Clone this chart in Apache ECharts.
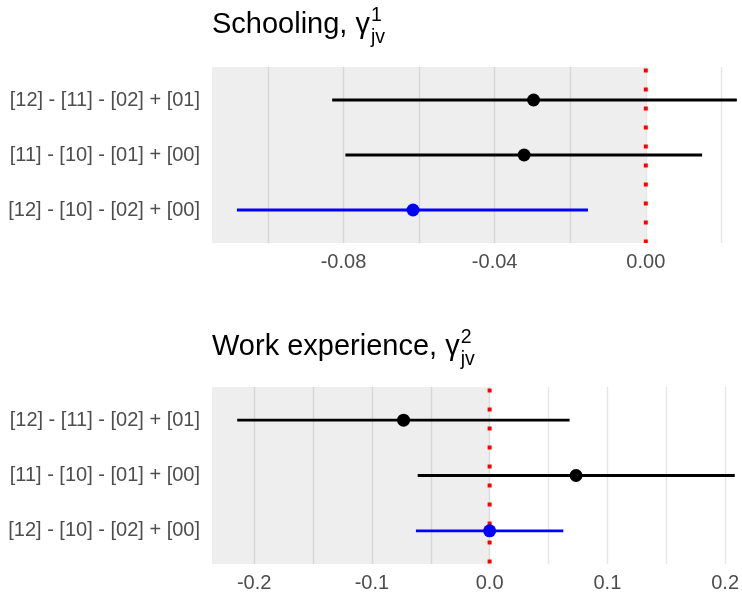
<!DOCTYPE html>
<html>
<head>
<meta charset="utf-8">
<script src="https://cdn.jsdelivr.net/npm/echarts@6/dist/echarts.min.js"></script>
<style>html,body{margin:0;padding:0;background:#fff;}#c{width:742px;height:596px;}</style>
</head>
<body>
<div id="c"></div>
<script>
const categories = ['[12] - [11] - [02] + [01]', '[11] - [10] - [01] + [00]', '[12] - [10] - [02] + [00]'];
const rows = [1, 2, 3];
const schoolEst = [-0.0297, -0.0322, -0.0616];
const schoolLo = [-0.0830, -0.0795, -0.1082];
const schoolHi = [0.0241, 0.0149, -0.0153];
const workEst = [-0.0731, 0.0734, 0.0000];
const workLo = [-0.2144, -0.0611, -0.0626];
const workHi = [0.0679, 0.2082, 0.0626];
const schoolGridValues = [-0.10, -0.08, -0.06, -0.04, -0.02, 0, 0.02];
const schoolTickLabels = [-0.08, -0.04, 0];
const workGridValues = [-0.20, -0.15, -0.10, -0.05, 0, 0.05, 0.10, 0.15, 0.20];
const workTickLabels = [-0.2, -0.1, 0, 0.1, 0.2];
const titles = ['Schooling, \u03b3', 'Work experience, \u03b3'];
const superscripts = ['1', '2'];
const subscripts = ['jv', 'jv'];
const referenceValue = 0;

const rowColors = ['#000000', '#000000', '#0000ff'];
const FONT = '"Liberation Sans", Arial, Helvetica, sans-serif';
const LABEL = '#4d4d4d';
const Y_MIN = 0.4, Y_MAX = 3.6;

const chart = echarts.init(document.getElementById('c'), null, {renderer: 'canvas'});

function measure(text, size) {
  const ctx = document.createElement('canvas').getContext('2d');
  ctx.font = size + 'px ' + FONT;
  return ctx.measureText(text).width;
}

const panels = [
  {top: 67, height: 176, min: -0.1148, max: 0.0244, grid: schoolGridValues, ticks: schoolTickLabels, dec: 2,
   est: schoolEst, lo: schoolLo, hi: schoolHi},
  {top: 387, height: 177, min: -0.2358, max: 0.2092, grid: workGridValues, ticks: workTickLabels, dec: 1,
   est: workEst, lo: workLo, hi: workHi}
];

const grids = [], xAxes = [], yAxes = [], series = [], graphics = [];
panels.forEach((p, i) => {
  grids.push({show: false, left: 212, width: 526, top: p.top, height: p.height, containLabel: false});
  xAxes.push({
    type: 'value', gridIndex: i, min: p.min, max: p.max,
    axisLine: {show: false}, axisTick: {show: false, customValues: p.grid},
    axisLabel: {customValues: p.ticks, color: LABEL, fontSize: 20, fontFamily: FONT, margin: 9,
      formatter: v => v.toFixed(p.dec)},
    splitArea: {show: false},
    splitLine: {show: true, lineStyle: {color: '#e6e6e6', width: 1.4}}
  });
  yAxes.push({
    type: 'value', gridIndex: i, min: Y_MIN, max: Y_MAX, inverse: true,
    axisLine: {show: false}, axisTick: {show: false, customValues: rows},
    axisLabel: {customValues: rows, color: LABEL, fontSize: 20, fontFamily: FONT, margin: 12,
      formatter: v => categories[Math.round(v) - 1] || ''},
    splitArea: {show: false},
    splitLine: {show: false}
  });
  // shaded region from the axis minimum up to the reference value
  series.push({
    type: 'custom', xAxisIndex: i, yAxisIndex: i, clip: true, z: 1, silent: true,
    data: [[p.min, referenceValue, Y_MIN, Y_MAX]],
    encode: {x: [0, 1], y: [2, 3]},
    renderItem: (params, api) => {
      const a = api.coord([api.value(0), api.value(2)]);
      const b = api.coord([api.value(1), api.value(3)]);
      return {type: 'rect', shape: {x: Math.min(a[0], b[0]), y: Math.min(a[1], b[1]),
        width: Math.abs(b[0] - a[0]), height: Math.abs(b[1] - a[1])},
        style: {fill: 'rgba(0,0,0,0.065)'}};
    }
  });
  // dotted red reference line
  series.push({
    type: 'custom', xAxisIndex: i, yAxisIndex: i, clip: true, z: 2, silent: true,
    data: [[referenceValue, Y_MIN, Y_MAX]],
    encode: {x: 0, y: [1, 2]},
    renderItem: (params, api) => {
      const a = api.coord([api.value(0), api.value(1)]);
      const b = api.coord([api.value(0), api.value(2)]);
      return {type: 'line', shape: {x1: a[0], y1: a[1], x2: b[0], y2: b[1]},
        style: {stroke: '#ff0000', lineWidth: 4, lineDash: [4, 15], lineDashOffset: 17.5, lineCap: 'butt'}};
    }
  });
  // confidence intervals
  series.push({
    type: 'custom', xAxisIndex: i, yAxisIndex: i, clip: true, z: 3,
    data: rows.map((r, k) => [p.lo[k], p.hi[k], r, k]),
    encode: {x: [0, 1], y: 2},
    renderItem: (params, api) => {
      const a = api.coord([api.value(0), api.value(2)]);
      const b = api.coord([api.value(1), api.value(2)]);
      return {type: 'line', shape: {x1: a[0], y1: a[1], x2: b[0], y2: b[1]},
        style: {stroke: rowColors[api.value(3)], lineWidth: 2.8}};
    }
  });
  // point estimates
  series.push({
    type: 'scatter', xAxisIndex: i, yAxisIndex: i, z: 10, symbolSize: 13,
    data: rows.map((r, k) => ({value: [p.est[k], r], itemStyle: {color: rowColors[k], opacity: 1}})),
    emphasis: {disabled: true}
  });
  const base = i === 0 ? 35 : 357;
  const titleSize = 29, subSize = 19.5;
  const w = measure(titles[i], titleSize);
  graphics.push({type: 'text', x: 212, y: base - 0.35 * titleSize,
    style: {text: titles[i], font: titleSize + 'px ' + FONT, fill: '#000', verticalAlign: 'middle', align: 'left'}});
  graphics.push({type: 'text', x: 212 + w + 1, y: base - 13 - 0.35 * subSize,
    style: {text: superscripts[i], font: subSize + 'px ' + FONT, fill: '#000', verticalAlign: 'middle', align: 'left'}});
  graphics.push({type: 'text', x: 212 + w + 1, y: base + 9 - 0.35 * subSize,
    style: {text: subscripts[i], font: subSize + 'px ' + FONT, fill: '#000', verticalAlign: 'middle', align: 'left'}});
});

chart.setOption({
  animation: false,
  backgroundColor: '#ffffff',
  grid: grids, xAxis: xAxes, yAxis: yAxes, series: series,
  graphic: graphics
});
</script>
</body>
</html>
